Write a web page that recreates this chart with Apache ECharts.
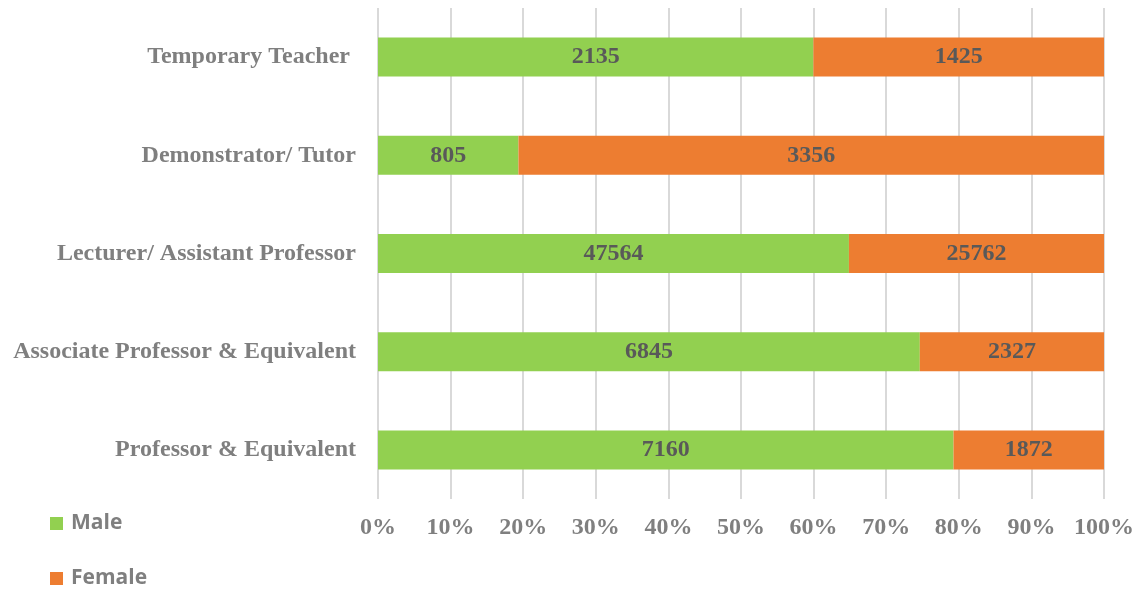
<!DOCTYPE html>
<html>
<head>
<meta charset="utf-8">
<style>
  html, body { margin: 0; padding: 0; background: #fff; }
  #chart { width: 1147px; height: 590px; }
</style>
<script src="https://cdn.jsdelivr.net/npm/echarts@6/dist/echarts.min.js"></script>
</head>
<body>
<div id="chart"></div>
<script>
  const categories = [
    'Professor & Equivalent',
    'Associate Professor & Equivalent',
    'Lecturer/ Assistant Professor',
    'Demonstrator/ Tutor',
    'Temporary Teacher ',
  ];
  const maleValues = [7160, 6845, 47564, 805, 2135];
  const femaleValues = [1872, 2327, 25762, 3356, 1425];
  const xTicks = [0, 10, 20, 30, 40, 50, 60, 70, 80, 90, 100];

  const serif = '"Liberation Serif", "Times New Roman", serif';
  const totals = maleValues.map((v, i) => v + femaleValues[i]);
  const toShare = (arr) => arr.map((v, i) => ({ value: (v / totals[i]) * 100, raw: v }));

  const chart = echarts.init(document.getElementById('chart'));

  const labelStyle = {
    show: true,
    position: 'inside',
    formatter: (p) => String(p.data.raw),
    color: '#595959',
    fontFamily: serif,
    fontWeight: 'bold',
    fontSize: 24,
  };

  chart.setOption({
    animation: false,
    grid: { left: 378, right: 43, top: 8, bottom: 91 },
    legend: {
      orient: 'vertical',
      left: 50,
      top: 513,
      padding: 0,
      itemGap: 34,
      itemWidth: 13,
      itemHeight: 13,
      icon: 'rect',
      textStyle: {
        fontFamily: '"Open Sans", "Liberation Sans", sans-serif',
        fontWeight: 'bold',
        fontSize: 21,
        color: '#7f7f7f',
        padding: [0, 0, 0, 3],
      },
      data: ['Male', 'Female'],
    },
    xAxis: {
      type: 'value',
      min: xTicks[0],
      max: xTicks[xTicks.length - 1],
      interval: 10,
      axisLine: { show: false },
      axisTick: { show: false },
      splitLine: { lineStyle: { color: '#d9d9d9', width: 2 } },
      axisLabel: {
        formatter: '{value}%',
        margin: 17,
        color: '#7f7f7f',
        fontFamily: serif,
        fontWeight: 'bold',
        fontSize: 24,
      },
    },
    yAxis: {
      type: 'category',
      data: categories,
      axisLine: { show: false },
      axisTick: { show: false },
      axisLabel: {
        margin: 22,
        color: '#7f7f7f',
        fontFamily: serif,
        fontWeight: 'bold',
        fontSize: 24,
      },
    },
    series: [
      {
        name: 'Male',
        type: 'bar',
        stack: 'total',
        barWidth: 39,
        itemStyle: { color: '#92d050' },
        label: labelStyle,
        data: toShare(maleValues),
      },
      {
        name: 'Female',
        type: 'bar',
        stack: 'total',
        barWidth: 39,
        itemStyle: { color: '#ed7d31' },
        label: labelStyle,
        data: toShare(femaleValues),
      },
    ],
  });
</script>
</body>
</html>
